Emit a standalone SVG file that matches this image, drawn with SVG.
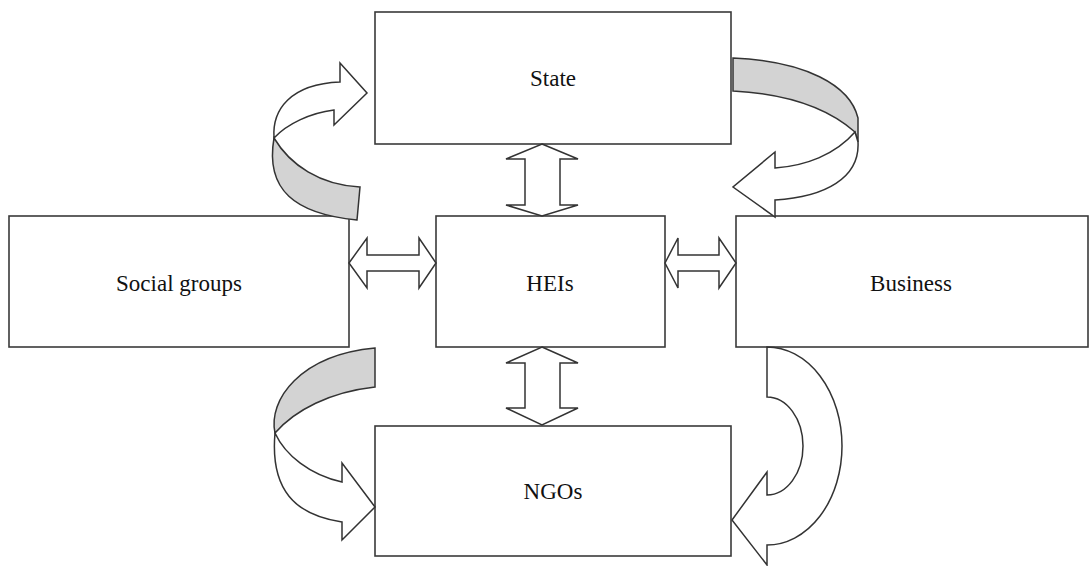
<svg xmlns="http://www.w3.org/2000/svg" width="1089" height="566" viewBox="0 0 1089 566">
<style>
.box{fill:#fff;stroke:#3a3a3a;stroke-width:1.6}
.lbl{font-family:"Liberation Serif","Times New Roman",serif;font-size:23px;fill:#111;text-anchor:middle}
.arr{fill:#fff;stroke:#333;stroke-width:1.5;stroke-linejoin:miter}
.back{fill:#d3d3d3;stroke:#333;stroke-width:1.5}
</style>
<rect width="1089" height="566" fill="#fff"/>
<g id="state"><rect class="box" x="375" y="12" width="356" height="132"/><text class="lbl" x="553" y="86">State</text></g>
<g id="social"><rect class="box" x="9" y="216" width="340" height="131"/><text class="lbl" x="179" y="291">Social groups</text></g>
<g id="heis"><rect class="box" x="436" y="216" width="229" height="131"/><text class="lbl" x="550" y="291">HEIs</text></g>
<g id="business"><rect class="box" x="736" y="216" width="352" height="131"/><text class="lbl" x="911" y="291">Business</text></g>
<g id="ngos"><rect class="box" x="375" y="426" width="356" height="130"/><text class="lbl" x="553" y="499">NGOs</text></g>
<g id="connectors">
<path class="arr" d="M542,144 L578,159 L560,159 L560,205 L578,205 L542,216 L506,205 L525,205 L525,159 L506,159 Z"/>
<path class="arr" d="M542,347 L578,363 L560,363 L560,408 L578,408 L542,425 L506,408 L525,408 L525,363 L506,363 Z"/>
<path class="arr" d="M349,263 L367,238 L367,255 L419,255 L419,238 L436,263 L419,288 L419,271 L367,271 L367,288 Z"/>
<path class="arr" d="M665,263 L678,238 L678,255 L719,255 L719,238 L736,263 L719,288 L719,271 L678,271 L678,288 Z"/>
<path class="back" d="M274,138 C 290,165 320,185 360,187 L357,220 C 295,214 265,190 274,138 Z"/>
<path class="arr" d="M340,63 L367,93 L334,125 L334,110 C 310,113 287,124 274,138 C 272,110 290,84 340,82 Z"/>
<path class="back" d="M733,58 C 805,61 850,85 858,118 L858,142 L855,132 C 830,110 790,94 733,91 Z"/>
<path class="arr" d="M855,132 C 835,155 805,166 775,168 L775,152 L733,187 L775,217 L775,200 C 825,197 860,178 858,142 Z"/>
<path class="back" d="M375,348 L375,387 C 330,392 295,410 275,433 C 268,400 300,355 375,348 Z"/>
<path class="arr" d="M275,433 C 285,455 310,475 342,482 L342,463 L375,507 L342,540 L342,522 C 295,515 270,490 275,433 Z"/>
<path class="arr" d="M767,347 A75,99 0 0 1 767,545 L767,565 L732,520 L767,472 L767,495 A36,49 0 0 0 767,397 Z"/>
</g>
</svg>
